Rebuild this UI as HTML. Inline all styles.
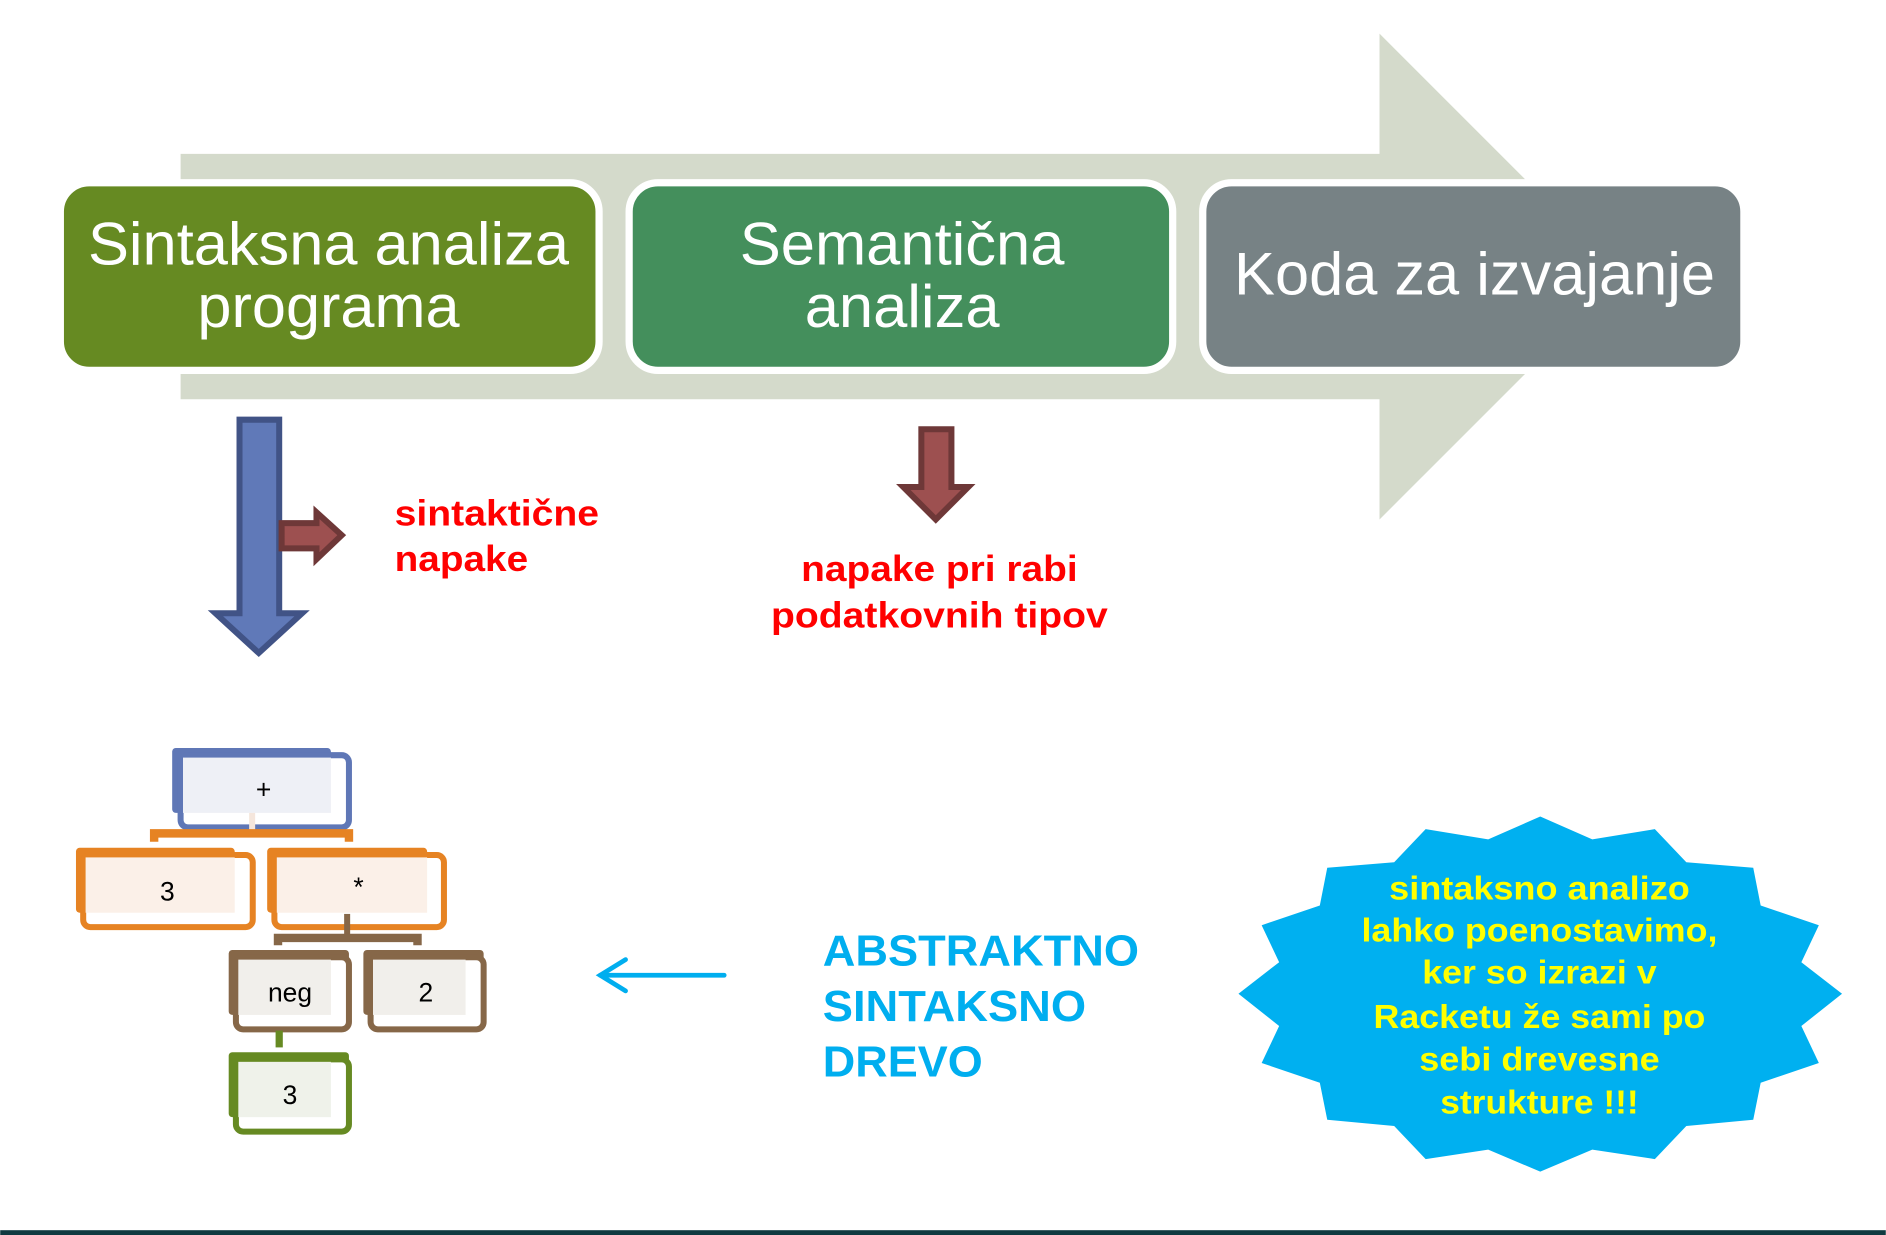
<!DOCTYPE html>
<html><head><meta charset="utf-8"><style>html,body{margin:0;padding:0;background:#fff}svg{display:block}</style></head><body>
<svg width="1886" height="1235" viewBox="0 0 1568 1027" xmlns="http://www.w3.org/2000/svg" font-family="Liberation Sans, sans-serif">
<rect width="1568" height="1027" fill="#fff"/>
<polygon points="150,128 1147,128 1147,28 1349,230 1147,432 1147,332 150,332" fill="#d4dacb"/>
<g stroke="#fff" stroke-width="6">
<rect x="50" y="152" width="448" height="156" rx="24" fill="#668a22"/>
<rect x="523" y="152" width="452" height="156" rx="24" fill="#448f5c"/>
<rect x="1000" y="152" width="450" height="156" rx="24" fill="#778285"/>
</g>
<g fill="#fff" font-size="50" text-anchor="middle">
<text x="273" y="220" textLength="400" lengthAdjust="spacingAndGlyphs">Sintaksna analiza</text>
<text x="273" y="272" textLength="218" lengthAdjust="spacingAndGlyphs">programa</text>
<text x="750" y="220" textLength="270" lengthAdjust="spacingAndGlyphs">Semantična</text>
<text x="750" y="272" textLength="162" lengthAdjust="spacingAndGlyphs">analiza</text>
<text x="1226" y="245" textLength="400" lengthAdjust="spacingAndGlyphs">Koda za izvajanje</text>
</g>
<polygon points="199,349 232,349 232,510 251,510 215,543 179,510 199,510" fill="#6079b8" stroke="#415386" stroke-width="5"/>
<polygon points="234,435 263,435 263,426 284,445 263,465 263,456 234,456" fill="#9d5050" stroke="#6e3838" stroke-width="5"/>
<polygon points="766,357 791,357 791,405 805,405 778,432 751,405 766,405" fill="#9d5050" stroke="#6e3838" stroke-width="5"/>
<g fill="#ff0000" font-weight="bold" font-size="30">
<text x="328" y="437" textLength="170" lengthAdjust="spacingAndGlyphs">sintaktične</text>
<text x="328" y="475" textLength="111" lengthAdjust="spacingAndGlyphs">napake</text>
<text x="781" y="483" text-anchor="middle" textLength="230" lengthAdjust="spacingAndGlyphs">napake pri rabi</text>
<text x="781" y="522" text-anchor="middle" textLength="280" lengthAdjust="spacingAndGlyphs">podatkovnih tipov</text>
</g>
<!-- tree -->
<g font-size="22" text-anchor="middle" fill="#000">
<rect x="143" y="622" width="132" height="54" rx="3" fill="#5f77b6"/>
<rect x="150" y="628" width="140" height="60" rx="6" fill="#fff" stroke="#5f77b6" stroke-width="5"/>
<rect x="152" y="630" width="123" height="46" fill="#eef0f6"/>
<text x="219" y="664">+</text>
<rect x="207" y="676" width="5" height="14" fill="#f5e6dc"/>
<path d="M128,700 V693 H290 V700" fill="none" stroke="#e68323" stroke-width="7"/>
<rect x="63" y="705" width="132" height="54" rx="3" fill="#e68323"/>
<rect x="69" y="711" width="141" height="60" rx="6" fill="#fff" stroke="#e68323" stroke-width="5"/>
<rect x="71" y="713" width="124" height="46" fill="#fbf0e8"/>
<text x="139" y="749">3</text>
<rect x="222" y="705" width="133" height="54" rx="3" fill="#e68323"/>
<rect x="228" y="711" width="141" height="60" rx="6" fill="#fff" stroke="#e68323" stroke-width="5"/>
<rect x="230" y="713" width="125" height="46" fill="#fbf0e8"/>
<text x="298" y="745">*</text>
<rect x="286" y="760" width="5" height="18" fill="#866748"/>
<path d="M231,786 V780 H347 V786" fill="none" stroke="#866748" stroke-width="7"/>
<rect x="190" y="790" width="100" height="54" rx="3" fill="#866748"/>
<rect x="196" y="796" width="94" height="60" rx="6" fill="#fff" stroke="#866748" stroke-width="5"/>
<rect x="198" y="798" width="77" height="46" fill="#f1efeb"/>
<text x="241" y="833">neg</text>
<rect x="302" y="790" width="100" height="54" rx="3" fill="#866748"/>
<rect x="308" y="796" width="94" height="60" rx="6" fill="#fff" stroke="#866748" stroke-width="5"/>
<rect x="310" y="798" width="77" height="46" fill="#f1efeb"/>
<text x="354" y="833">2</text>
<rect x="229" y="857" width="6" height="14" fill="#668a22"/>
<rect x="190" y="875" width="100" height="54" rx="3" fill="#668a22"/>
<rect x="196" y="881" width="94" height="60" rx="6" fill="#fff" stroke="#668a22" stroke-width="5"/>
<rect x="198" y="883" width="77" height="46" fill="#eff2ea"/>
<text x="241" y="918">3</text>
</g>
<!-- left arrow -->
<g stroke="#00aeef" stroke-width="4" fill="none" stroke-linecap="round">
<line x1="602" y1="811" x2="499" y2="811"/>
<polyline points="520,798 499,811 520,824"/>
</g>
<g fill="#00aeef" font-weight="bold" font-size="36">
<text x="684" y="803" textLength="263" lengthAdjust="spacingAndGlyphs">ABSTRAKTNO</text>
<text x="684" y="849" textLength="219" lengthAdjust="spacingAndGlyphs">SINTAKSNO</text>
<text x="684" y="895" textLength="133" lengthAdjust="spacingAndGlyphs">DREVO</text>
</g>
<!-- star -->
<g transform="translate(997.7,0) scale(0.3637,0.6548)">
<polygon fill="#00b0f0" points="778,1037 897,1066 1040,1053 1112,1095 1265,1102 1282,1150 1415,1175 1375,1222 1468,1262 1375,1303 1415,1350 1282,1375 1265,1422 1112,1430 1040,1472 897,1460 778,1488 659,1460 516,1472 444,1430 291,1422 274,1375 141,1350 181,1303 88,1262 181,1222 141,1175 274,1150 291,1102 444,1095 516,1053 659,1066"/>
</g>
<g fill="#ffff00" font-weight="bold" font-size="28" text-anchor="middle">
<text x="1280" y="748" textLength="250" lengthAdjust="spacingAndGlyphs">sintaksno analizo</text>
<text x="1280" y="783" textLength="296" lengthAdjust="spacingAndGlyphs">lahko poenostavimo,</text>
<text x="1280" y="818" textLength="195" lengthAdjust="spacingAndGlyphs">ker so izrazi v</text>
<text x="1280" y="855" textLength="276" lengthAdjust="spacingAndGlyphs">Racketu že sami po</text>
<text x="1280" y="890" textLength="200" lengthAdjust="spacingAndGlyphs">sebi drevesne</text>
<text x="1280" y="926" textLength="165" lengthAdjust="spacingAndGlyphs">strukture !!!</text>
</g>
<rect x="0" y="1023" width="1568" height="4" fill="#0f3a40"/>
</svg>
</body></html>
